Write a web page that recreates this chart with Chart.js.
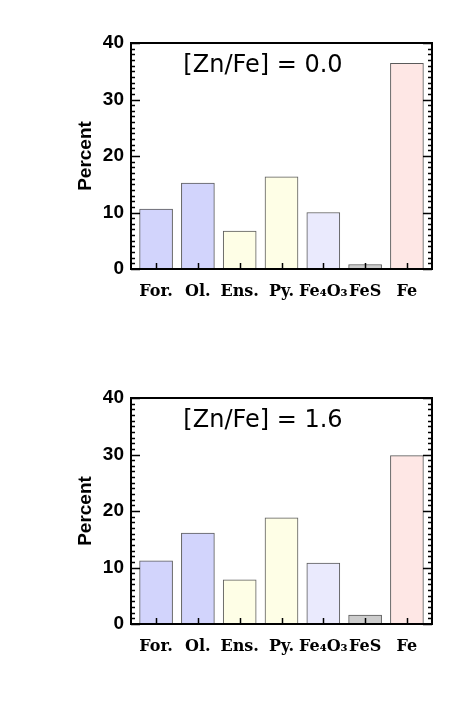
<!DOCTYPE html>
<html>
<head>
<meta charset="utf-8">
<script src="https://cdn.jsdelivr.net/npm/chart.js@4/dist/chart.umd.min.js"></script>
<style>
  html, body { margin: 0; padding: 0; background: #fff; }
  body { width: 471px; height: 709px; position: relative; overflow: hidden; }
  .panel { position: absolute; left: 0; width: 471px; height: 354px; }
</style>
</head>
<body>
<div class="panel" style="top:0"><canvas id="c1" width="471" height="354"></canvas></div>
<div class="panel" style="top:355px"><canvas id="c2" width="471" height="354"></canvas></div>
<script>
const categories = ['For.', 'Ol.', 'Ens.', 'Py.', 'Fe\u2084O\u2083', 'FeS', 'Fe'];
const valuesZn00 = [10.6, 15.2, 6.7, 16.3, 10.0, 0.8, 36.4];
const valuesZn16 = [11.2, 16.1, 7.8, 18.8, 10.8, 1.6, 29.8];
const panelTitles = ['[Zn/Fe] = 0.0', '[Zn/Fe] = 1.6'];
const yTicks = [0, 10, 20, 30, 40];
const barColors = ['#d2d4fc', '#d2d4fc', '#fefee6', '#fefee6', '#eaeafd', '#cccccc', '#fee7e5'];

const framePlugin = {
  id: 'idlFrame',
  afterDatasetsDraw(chart, args, opts) {
    const {ctx, chartArea: a, scales} = chart;
    const y = scales.y, x = scales.x;
    ctx.save();
    ctx.strokeStyle = '#000';
    ctx.lineWidth = 1.5;
    for (let v = 0; v <= 40; v += 1) {
      const py = Math.round(y.getPixelForValue(v)) + 0.5;
      const len = (v % 10 === 0) ? 9 : 4;
      ctx.beginPath();
      ctx.moveTo(a.left, py); ctx.lineTo(a.left + len, py);
      ctx.moveTo(a.right, py); ctx.lineTo(a.right - len, py);
      ctx.stroke();
    }
    categories.forEach((c, i) => {
      const px = Math.round(x.getPixelForValue(i)) + 0.5;
      ctx.beginPath();
      ctx.moveTo(px, a.bottom); ctx.lineTo(px, a.bottom - 6);
      ctx.stroke();
    });
    ctx.lineWidth = 2;
    ctx.strokeRect(a.left, a.top, a.right - a.left, a.bottom - a.top);
    ctx.fillStyle = '#000';
    ctx.font = '24px "DejaVu Sans"';
    ctx.textAlign = 'center';
    ctx.textBaseline = 'middle';
    ctx.fillText(opts.text, a.left + 132, a.top + 23);
    ctx.restore();
  }
};

function makeChart(id, values, title) {
  return new Chart(document.getElementById(id), {
    type: 'bar',
    data: {
      datasets: [{
        data: values.map((v, i) => ({x: i, y: v})),
        backgroundColor: barColors,
        borderColor: '#5a5a5a',
        borderWidth: 1,
        barThickness: 33,
        borderSkipped: false
      }]
    },
    options: {
      responsive: false,
      animation: false,
      events: [],
      layout: { padding: { left: 0, top: 43, right: 39, bottom: 45 } },
      plugins: { legend: { display: false }, tooltip: { enabled: false }, idlFrame: { text: title } },
      scales: {
        x: {
          type: 'linear',
          offset: false,
          min: -0.6, max: 6.6,
          afterBuildTicks: s => { s.ticks = categories.map((c, i) => ({value: i})); },
          afterFit: s => { s.height = 40; },
          grid: { display: false, drawTicks: false, offset: false },
          border: { display: false },
          ticks: {
            autoSkip: false, maxRotation: 0, minRotation: 0, padding: 13,
            color: '#000',
            font: { family: '"DejaVu Serif"', size: 16, weight: 'bold' },
            callback: v => categories[v]
          }
        },
        y: {
          min: 0, max: 40,
          afterBuildTicks: s => { s.ticks = yTicks.map(v => ({value: v})); },
          afterFit: s => { s.width = 131; },
          grid: { display: false, drawTicks: false },
          border: { display: false },
          ticks: {
            padding: 7, color: '#000',
            font: { family: '"Liberation Sans"', size: 19, weight: 'bold' }
          },
          title: {
            display: true, text: 'Percent', color: '#000',
            padding: { top: 74, bottom: 0 },
            font: { family: '"Liberation Sans"', size: 19, weight: 'bold' }
          }
        }
      }
    },
    plugins: [framePlugin]
  });
}

makeChart('c1', valuesZn00, panelTitles[0]);
makeChart('c2', valuesZn16, panelTitles[1]);
</script>
</body>
</html>
